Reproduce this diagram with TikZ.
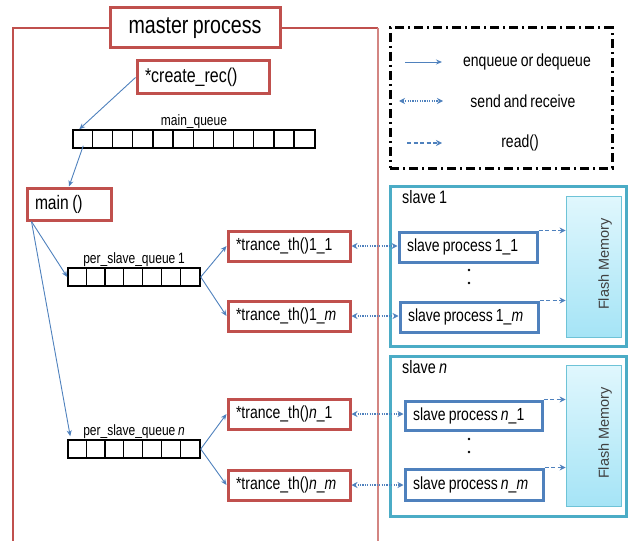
\documentclass[tikz,border=0pt]{standalone}
\usepackage{fontspec}
\setmainfont{Liberation Sans}[FakeStretch=0.8,WordSpace=0.8]
\newfontfamily\flashfont{Liberation Sans}[FakeStretch=1.0]
\usetikzlibrary{arrows.meta,calc}
\definecolor{rboxc}{RGB}{192,80,77}
\definecolor{bluec}{RGB}{79,129,189}
\definecolor{tealc}{RGB}{75,172,198}
\definecolor{flashtop}{RGB}{224,247,253}
\definecolor{flashbot}{RGB}{165,228,246}
\definecolor{flashedge}{RGB}{110,195,215}
\newcommand{\fsz}[1]{\fontsize{#1}{#1}\selectfont}
\begin{document}
\begin{tikzpicture}[x=1pt,y=-1pt,
  redbox/.style={draw=rboxc, line width=3pt, fill=white, inner xsep=8pt, inner ysep=0pt,
    align=flush left, text width=#1, font=\fsz{17.5}},
  bluebox/.style={draw=bluec, line width=3pt, fill=white, inner xsep=8pt, inner ysep=0pt,
    align=flush left, text width=#1, font=\fsz{17.5}},
  queue/.style={draw, line width=1.5pt, inner sep=0pt, minimum height=18},
  qlabel/.style={anchor=south, inner sep=1pt, font=\fsz{15}},
  slavebox/.style={draw=tealc, line width=3pt, inner sep=0pt, minimum width=236, minimum height=160},
  flash/.style={draw=flashedge, line width=0.8pt, top color=flashtop, bottom color=flashbot,
    minimum width=55, minimum height=141, inner sep=0pt},
  flashtext/.style={rotate=90, font=\flashfont\fsz{14.5}, text=black!75},
  conn/.style={bluec, line width=0.9pt, -{Stealth[length=6pt,width=5pt]}},
  sendrecv/.style={bluec, line width=1.5pt, dash pattern=on 1.2pt off 1.2pt,
    {Stealth[length=6pt,width=6pt]}-{Stealth[length=6pt,width=6pt]}},
  readarr/.style={bluec, line width=1.5pt, dash pattern=on 4pt off 2.5pt,
    -{Stealth[length=6pt,width=6pt]}},
  legtext/.style={font=\fsz{17.5}, inner sep=0pt}
]
\useasboundingbox (0,0) rectangle (628,540);

% master frame
\draw[rboxc, line width=2pt] (13,541) -- (13,28) -- (378,28);
\draw[rboxc!70, line width=1.5pt] (378,28) -- (378,541);
\node[draw=rboxc, line width=3pt, fill=white, minimum width=170, minimum height=40,
  inner sep=0pt, font=\fsz{24.5}] (title) at (195,28) {master process};

% create_rec and main queue
\node[redbox=116, minimum height=33, font=\fsz{20}] (create) at (203,77.5) {*create\_rec()};
\node[queue, minimum width=242] (mq) at (194,139) {};
\foreach \i in {1,...,11}
  \draw[line width=1.2pt] ($(mq.north west)+(\i*242/12,0)$) -- ($(mq.south west)+(\i*242/12,0)$);
\node[qlabel] (mql) at ($(mq.north)+(0,1)$) {main\_queue};

\node[redbox=68, minimum height=32, font=\fsz{19.5}] (main) at (69,204) {main ()};

% per slave queues
\node[queue, minimum width=132] (q1) at (134,277) {};
\node[queue, minimum width=132] (qn) at (134,449) {};
\foreach \i in {1,...,6} {
  \draw[line width=1.2pt] ($(q1.north west)+(\i*132/7,0)$) -- ($(q1.south west)+(\i*132/7,0)$);
  \draw[line width=1.2pt] ($(qn.north west)+(\i*132/7,0)$) -- ($(qn.south west)+(\i*132/7,0)$);
}
\node[qlabel] (q1l) at ($(q1.north)+(0,1)$) {per\_slave\_queue 1};
\node[qlabel] (qnl) at ($(qn.north)+(0,1)$) {per\_slave\_queue \textit{n}};

% trance threads
\node[redbox=106, minimum height=30] (t11) at (289,246) {*trance\_th()1\_1};
\node[redbox=106, minimum height=30] (t1m) at (289,316) {*trance\_th()1\_\textit{m}};
\node[redbox=106, minimum height=30] (tn1) at (289,414) {*trance\_th()\textit{n}\_1};
\node[redbox=106, minimum height=30] (tnm) at (289,485) {*trance\_th()\textit{n}\_\textit{m}};

% legend
\node[draw, line width=3pt, dash pattern=on 9pt off 4pt on 2pt off 4pt,
  minimum width=222, minimum height=140, inner sep=0pt] (legend) at (501,98) {};
\coordinate (la1) at (405,62);  \coordinate (lb1) at (442,62);
\coordinate (la2) at (399,101); \coordinate (lb2) at (443,101);
\coordinate (la3) at (407,143); \coordinate (lb3) at (442,143);
\draw[conn] (la1) -- (lb1);
\draw[sendrecv] (la2) -- (lb2);
\draw[readarr] (la3) -- (lb3);
\node[legtext] (lt1) at (527,62) {enqueue or dequeue};
\node[legtext] (lt2) at (523,101) {send and receive};
\node[legtext] (lt3) at (520,143) {read()};

% slave 1
\node[slavebox] (sl1) at (508,266) {};
\node[anchor=west, inner sep=0pt, font=\fsz{18}] (sl1lab) at (402,197) {slave 1};
\node[flash] (fm1) at (593.5,267) {};
\node[flashtext] (fm1t) at (605,264) {Flash Memory};
\node[bluebox=122, minimum height=30] (s11) at (468,247) {slave process 1\_1};
\node[bluebox=122, minimum height=30] (s1m) at (469,317) {slave process 1\_\textit{m}};
\fill (469,270) circle (1.4pt);
\fill (469,283) circle (1.4pt);

% slave n
\node[slavebox] (sln) at (508,436) {};
\node[anchor=west, inner sep=0pt, font=\fsz{18}] (slnlab) at (402,367) {slave \textit{n}};
\node[flash] (fmn) at (593.5,436) {};
\node[flashtext] (fmnt) at (605,433) {Flash Memory};
\node[bluebox=121, minimum height=29] (sn1) at (473.5,415.5) {slave process \textit{n}\_1};
\node[bluebox=122, minimum height=31] (snm) at (474,484.5) {slave process \textit{n}\_\textit{m}};
\fill (469,439) circle (1.4pt);
\fill (469,452) circle (1.4pt);

% connectors
\draw[conn] (create.west) -- ($(mq.north west)+(7,0)$);
\draw[conn] ($(mq.south west)+(11,-3)$) -- (main.north);
\draw[conn] ($(main.south west)+(6,0)$) -- (q1.west);
\draw[conn] ($(main.south west)+(6,0)$) -- ($(qn.north west)+(3,-3)$);
\draw[conn] (q1.east) -- (t11.west);
\draw[conn] (q1.east) -- (t1m.west);
\draw[conn] (qn.east) -- (tn1.west);
\draw[conn] (qn.east) -- (tnm.west);

\draw[sendrecv] (t11.east) -- (t11.east -| s11.west);
\draw[sendrecv] (t1m.east) -- (t1m.east -| s1m.west);
\draw[sendrecv] (tn1.east) -- (tn1.east -| sn1.west);
\draw[sendrecv] (tnm.east) -- (tnm.east -| snm.west);

\draw[readarr] (s11.north east) -- (s11.north east -| fm1.west);
\draw[readarr] (s1m.north east) -- (s1m.north east -| fm1.west);
\draw[readarr] (sn1.north east) -- (sn1.north east -| fmn.west);
\draw[readarr] (snm.north east) -- (snm.north east -| fmn.west);
\end{tikzpicture}
\end{document}
